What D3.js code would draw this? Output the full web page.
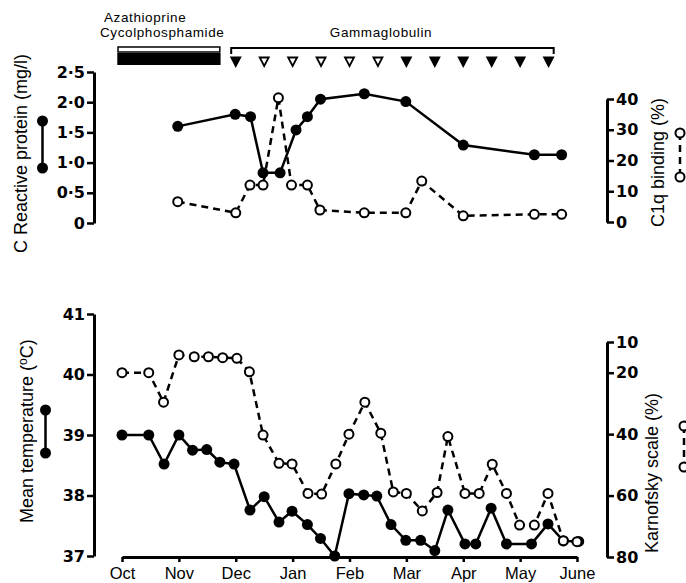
<!DOCTYPE html>
<html lang="en">
<head>
<meta charset="UTF-8">
<title>Clinical course chart</title>
<style>
  body { margin: 0; background: #fff; }
  svg { display: block; font-family: "Liberation Sans", Arial, sans-serif; }
  .axis path, .axis line { stroke: #000; }
  .axis path { stroke-width: 3; }
  .axis line { stroke-width: 2.5; }
  .axis.num text { font-family: "DejaVu Sans", sans-serif; font-weight: bold; font-size: 16px; fill: #000; }
  .axis.months text { font-size: 16.5px; fill: #000; }
  .title { font-size: 18px; fill: #000; }
  .head { font-size: 13.5px; letter-spacing: 0.6px; fill: #000; }
  .solid { fill: none; stroke: #000; stroke-width: 2.5; }
  .dashed { fill: none; stroke: #000; stroke-width: 2.5; stroke-dasharray: 7,5; }
</style>
</head>
<body>
<svg width="686" height="583"></svg>
<script src="https://d3js.org/d3.v7.min.js"></script>
<script>
// x values are months after 1 October
const months = ["Oct", "Nov", "Dec", "Jan", "Feb", "Mar", "Apr", "May", "June"];

// treatment periods (months after 1 Oct)
const cytotoxicPeriod = [-0.07, 1.72];
const gammaPeriod = [1.92, 7.59];
const gammaDoses = [2, 2.5, 3, 3.5, 4, 4.5, 5, 5.5, 6, 6.5, 7, 7.5];
const gammaFilled = [true, false, false, false, false, false, true, true, true, true, true, true];

// C reactive protein (mg/l)
const crpX = [0.98, 1.99, 2.26, 2.48, 2.78, 3.06, 3.26, 3.49, 4.26, 4.99, 6.0, 7.25, 7.73];
const crpY = [1.6, 1.8, 1.76, 0.83, 0.83, 1.54, 1.76, 2.05, 2.14, 2.01, 1.29, 1.13, 1.13];

// C1q binding (%)
const c1qX = [0.98, 2.0, 2.25, 2.48, 2.75, 2.98, 3.26, 3.48, 4.26, 4.99, 5.27, 6.0, 7.25, 7.73];
const c1qY = [6.6, 3.0, 12, 12, 40.4, 12, 12, 3.9, 3, 3, 13.3, 2, 2.5, 2.5];

// mean temperature (deg C)
const tempX = [0, 0.47, 0.74, 1.0, 1.24, 1.49, 1.72, 1.97, 2.25, 2.5, 2.76, 2.99, 3.26, 3.49, 3.74,
  3.99, 4.25, 4.48, 4.73, 4.99, 5.25, 5.5, 5.73, 6.03, 6.22, 6.49, 6.76, 7.2, 7.49, 7.76, 8.03];
const tempY = [39.0, 39.0, 38.52, 39.0, 38.75, 38.76, 38.55, 38.52, 37.76, 37.98, 37.56, 37.74, 37.52, 37.29, 37.0,
  38.03, 38.01, 37.99, 37.52, 37.26, 37.26, 37.09, 37.76, 37.2, 37.2, 37.79, 37.2, 37.2, 37.53, 37.25, 37.24];

// Karnofsky scale (%)
const karnX = [0, 0.47, 0.73, 1.0, 1.27, 1.52, 1.77, 2.02, 2.24, 2.48, 2.76, 2.99, 3.27, 3.51, 3.76, 3.99,
  4.27, 4.55, 4.77, 5.0, 5.28, 5.54, 5.73, 6.03, 6.28, 6.51, 6.76, 6.99, 7.25, 7.49, 7.76, 8.0];
const karnY = [20, 20, 29.6, 14.2, 14.8, 14.8, 15.1, 15.3, 19.7, 40.3, 49.5, 49.7, 59.3, 59.5, 49.7, 40,
  29.6, 39.7, 58.8, 59.3, 65, 59, 40.8, 59.3, 59.3, 49.8, 59.3, 69.6, 69.6, 59.3, 74.7, 75];

const svg = d3.select("svg");

// scales
const x = d3.scaleLinear().domain([0, 8]).range([122, 577]);
const yCrp = d3.scaleLinear().domain([0, 2.5]).range([223, 72]);
const yC1q = d3.scaleLinear().domain([0, 40]).range([222, 99]);
const yTemp = d3.scaleLinear().domain([37, 41]).range([556, 314]);
const yKarn = d3.scaleLinear().domain([10, 80]).range([342, 557]);

const fmtDot = d => d === 0 ? "0" : d.toFixed(1).replace(".", "·");

// ---------- treatment header ----------
svg.append("text").attr("class", "head").attr("x", 104).attr("y", 22).text("Azathioprine");
svg.append("text").attr("class", "head").attr("x", 100).attr("y", 36.5).text("Cycolphosphamide");
svg.append("text").attr("class", "head").attr("x", 381).attr("y", 36.5).attr("text-anchor", "middle")
  .text("Gammaglobulin");

svg.append("rect")
  .attr("x", x(cytotoxicPeriod[0])).attr("y", 47)
  .attr("width", x(cytotoxicPeriod[1]) - x(cytotoxicPeriod[0])).attr("height", 5)
  .attr("fill", "#fff").attr("stroke", "#000").attr("stroke-width", 1.5);
svg.append("rect")
  .attr("x", x(cytotoxicPeriod[0]) - 0.75).attr("y", 53)
  .attr("width", x(cytotoxicPeriod[1]) - x(cytotoxicPeriod[0]) + 1.5).attr("height", 12)
  .attr("fill", "#000");

svg.append("path")
  .attr("d", `M${x(gammaPeriod[0])},54V48H${x(gammaPeriod[1])}V54`)
  .attr("fill", "none").attr("stroke", "#000").attr("stroke-width", 2);

svg.selectAll("path.dose")
  .data(gammaDoses)
  .join("path")
  .attr("class", "dose")
  .attr("transform", d => `translate(${x(d)},57.5)`)
  .attr("d", "M-4.5,0H4.5L0,8.5Z")
  .attr("fill", (d, i) => gammaFilled[i] ? "#000" : "#fff")
  .attr("stroke", "#000").attr("stroke-width", 1.8)
  .attr("stroke-linejoin", "miter");

// ---------- top panel ----------
svg.append("g").attr("class", "axis num").attr("transform", "translate(94,0)")
  .call(d3.axisLeft(yCrp).tickValues([0, 0.5, 1, 1.5, 2, 2.5]).tickFormat(fmtDot)
    .tickSize(7).tickPadding(2).tickSizeOuter(0));

svg.append("g").attr("class", "axis num").attr("transform", "translate(607,0)")
  .call(d3.axisRight(yC1q).tickValues([0, 10, 20, 30, 40])
    .tickSize(7).tickPadding(2).tickSizeOuter(0));

const c1qPts = c1qX.map((v, i) => [v, c1qY[i]]);
const crpPts = crpX.map((v, i) => [v, crpY[i]]);

svg.append("path").attr("class", "dashed")
  .attr("d", d3.line().x(d => x(d[0])).y(d => yC1q(d[1]))(c1qPts));
svg.append("path").attr("class", "solid")
  .attr("d", d3.line().x(d => x(d[0])).y(d => yCrp(d[1]))(crpPts));

svg.selectAll("circle.c1q").data(c1qPts).join("circle").attr("class", "c1q")
  .attr("cx", d => x(d[0])).attr("cy", d => yC1q(d[1])).attr("r", 4.5)
  .attr("fill", "#fff").attr("stroke", "#000").attr("stroke-width", 2);
svg.selectAll("circle.crp").data(crpPts).join("circle").attr("class", "crp")
  .attr("cx", d => x(d[0])).attr("cy", d => yCrp(d[1])).attr("r", 5.5)
  .attr("fill", "#000");

svg.append("text").attr("class", "title")
  .attr("transform", "translate(27,253) rotate(-90)").text("C Reactive protein (mg/l)");
svg.append("text").attr("class", "title")
  .attr("transform", "translate(664,227) rotate(-90)").text("C1q binding (%)");

// ---------- bottom panel ----------
svg.append("g").attr("class", "axis num").attr("transform", "translate(94,0)")
  .call(d3.axisLeft(yTemp).tickValues([37, 38, 39, 40, 41]).tickFormat(d3.format("d"))
    .tickSize(7).tickPadding(2).tickSizeOuter(0));

svg.append("g").attr("class", "axis num").attr("transform", "translate(607,0)")
  .call(d3.axisRight(yKarn).tickValues([10, 20, 40, 60, 80])
    .tickSize(7).tickPadding(2).tickSizeOuter(0));

svg.append("g").attr("class", "axis months").attr("transform", "translate(0,557)")
  .call(d3.axisBottom(x).tickValues(d3.range(0, 9)).tickFormat(i => months[i])
    .tickSize(5).tickPadding(5).tickSizeOuter(0));

const karnPts = karnX.map((v, i) => [v, karnY[i]]);
const tempPts = tempX.map((v, i) => [v, tempY[i]]);

svg.append("path").attr("class", "dashed")
  .attr("d", d3.line().x(d => x(d[0])).y(d => yKarn(d[1]))(karnPts));
svg.append("path").attr("class", "solid")
  .attr("d", d3.line().x(d => x(d[0])).y(d => yTemp(d[1]))(tempPts));

svg.selectAll("circle.temp").data(tempPts).join("circle").attr("class", "temp")
  .attr("cx", d => x(d[0])).attr("cy", d => yTemp(d[1])).attr("r", 5.5)
  .attr("fill", "#000");
svg.selectAll("circle.karn").data(karnPts).join("circle").attr("class", "karn")
  .attr("cx", d => x(d[0])).attr("cy", d => yKarn(d[1])).attr("r", 4.5)
  .attr("fill", "#fff").attr("stroke", "#000").attr("stroke-width", 2);

svg.append("text").attr("class", "title")
  .attr("transform", "translate(33,523) rotate(-90)")
  .html('Mean temperature (<tspan dy="-6" font-size="12">o</tspan><tspan dy="6">C)</tspan>');
svg.append("text").attr("class", "title")
  .attr("transform", "translate(658,553) rotate(-90)").text("Karnofsky scale (%)");

// ---------- legend keys beside the axis titles ----------
function key(cx, y1, y2, filled) {
  svg.append("line").attr("x1", cx).attr("x2", cx).attr("y1", y1).attr("y2", y2)
    .attr("stroke", "#000").attr("stroke-width", 2.5)
    .attr("stroke-dasharray", filled ? null : "7,5");
  [y1, y2].forEach(cy => svg.append("circle").attr("cx", cx).attr("cy", cy)
    .attr("r", filled ? 5.5 : 4.5)
    .attr("fill", filled ? "#000" : "#fff").attr("stroke", "#000").attr("stroke-width", filled ? 0 : 2));
}
key(42.5, 121, 168, true);
key(45.5, 410, 453, true);
key(680, 133, 177, false);
key(684, 426, 467, false);
</script>
</body>
</html>
